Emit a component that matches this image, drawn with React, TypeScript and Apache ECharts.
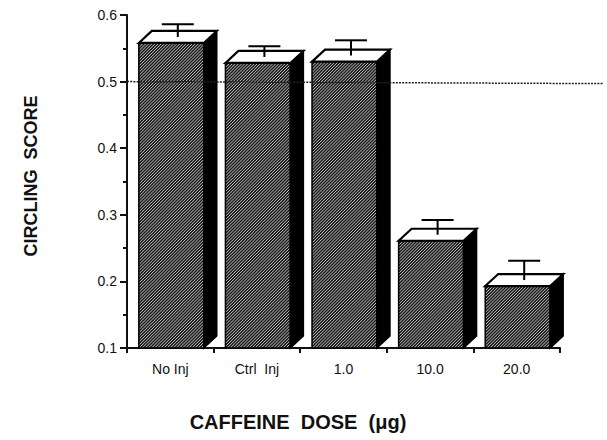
import React, { useEffect, useRef } from "react";
import * as echarts from "echarts";

const categories = ["No Inj", "Ctrl  Inj", "1.0", "10.0", "20.0"];
const scores = [0.558, 0.528, 0.53, 0.261, 0.193];
const sem = [0.019, 0.016, 0.023, 0.022, 0.029];
const referenceLevel = 0.5;
const yTicks = { min: 0.1, max: 0.6, interval: 0.1 };

const FONT = "'Liberation Sans', Arial, Helvetica, sans-serif";

export default function App() {
  const ref = useRef<HTMLDivElement>(null);
  useEffect(() => {
    if (!ref.current) return;
    const chart = echarts.init(ref.current, null, { renderer: "svg" });
    const barData = scores.map((v, i) => [i, v, sem[i]]);

    const option: any = {
      animation: false,
      backgroundColor: "#ffffff",
      grid: { left: 127, right: 47, top: 15, bottom: 92, containLabel: false },
      xAxis: {
        type: "category",
        data: categories,
        boundaryGap: true,
        axisLine: { show: true, lineStyle: { color: "#111", width: 2 } },
        axisTick: { show: true, length: 5, alignWithLabel: false, lineStyle: { color: "#111", width: 2 } },
        axisLabel: { margin: 14, fontSize: 14, color: "#111", fontFamily: FONT },
        splitLine: { show: false },
      },
      yAxis: {
        type: "value",
        min: yTicks.min,
        max: yTicks.max,
        interval: yTicks.interval,
        axisLine: { show: true, lineStyle: { color: "#111", width: 2 } },
        axisTick: { show: true, length: 7, lineStyle: { color: "#111", width: 2 } },
        minorTick: { show: true, splitNumber: 2, length: 4, lineStyle: { color: "#111", width: 2 } },
        axisLabel: {
          margin: 10,
          fontSize: 14,
          color: "#111",
          fontFamily: FONT,
          formatter: (v: number) => v.toFixed(1),
        },
        splitLine: { show: false },
      },
      graphic: [
        {
          type: "text",
          x: 31,
          y: 176,
          rotation: Math.PI / 2,
          style: {
            text: "CIRCLING  SCORE",
            fontSize: 18,
            fontWeight: "bold",
            fontFamily: FONT,
            fill: "#111",
            align: "center",
            verticalAlign: "middle",
          },
        },
        {
          type: "text",
          x: 298,
          y: 422,
          style: {
            text: "CAFFEINE  DOSE  (\u03bcg)",
            fontSize: 20,
            fontWeight: "bold",
            fontFamily: FONT,
            fill: "#111",
            align: "center",
            verticalAlign: "middle",
          },
        },
      ],
      series: [
        {
          type: "custom",
          data: barData,
          encode: { x: 0, y: 1 },
          z: 2,
          renderItem: (params: any, api: any) => {
            const idx = api.value(0);
            const v = api.value(1);
            const e = api.value(2);
            const top = api.coord([idx, v]);
            const base = api.coord([idx, yTicks.min]);
            const errTop = api.coord([idx, v + e]);
            const band = api.size([1, 0])[0];
            const w = band * 0.75;
            const dx = 13;
            const dy = 12;
            const x0 = top[0] - w / 2 + 1;
            const x1 = x0 + w;
            const yt = top[1];
            const yb = base[1];
            const children: any[] = [];
            children.push({
              type: "rect",
              shape: { x: x0, y: yt, width: w, height: yb - yt },
              style: { fill: "#1c1c1c", stroke: null },
            });
            const step = 3.1;
            for (let c = x0 + yt + step / 2; c < x1 + yb; c += step) {
              const xa = Math.max(x0, c - yb);
              const xb = Math.min(x1, c - yt);
              if (xb <= xa) continue;
              children.push({
                type: "line",
                shape: { x1: xa, y1: c - xa, x2: xb, y2: c - xb },
                style: { stroke: "#d4d4d4", lineWidth: 0.9 },
                silent: true,
              });
            }
            children.push({
              type: "rect",
              shape: { x: x0, y: yt, width: w, height: yb - yt },
              style: { fill: null, stroke: "#000", lineWidth: 1.5 },
            });
            children.push({
              type: "polygon",
              shape: {
                points: [
                  [x1, yt],
                  [x1 + dx, yt - dy],
                  [x1 + dx, yb - dy],
                  [x1, yb],
                ],
              },
              style: { fill: "#000", stroke: "#000", lineWidth: 1.5 },
            });
            children.push({
              type: "polygon",
              shape: {
                points: [
                  [x0, yt],
                  [x0 + dx, yt - dy],
                  [x1 + dx, yt - dy],
                  [x1, yt],
                ],
              },
              style: { fill: "#fff", stroke: "#000", lineWidth: 2.2 },
            });
            const cx = x0 + w / 2 + dx / 2;
            const cy = yt - dy / 2;
            const ey = errTop[1] - dy / 2;
            children.push({
              type: "line",
              shape: { x1: cx, y1: cy, x2: cx, y2: ey },
              style: { stroke: "#000", lineWidth: 2 },
            });
            children.push({
              type: "line",
              shape: { x1: cx - 16, y1: ey, x2: cx + 16, y2: ey },
              style: { stroke: "#000", lineWidth: 2 },
            });
            return { type: "group", children };
          },
        },
        {
          type: "custom",
          data: [[0, referenceLevel]],
          encode: { x: 0, y: 1 },
          z: 5,
          renderItem: (params: any, api: any) => {
            const p = api.coord([0, api.value(1)]);
            const left = params.coordSys.x;
            const right = api.getWidth() - 4;
            return {
              type: "line",
              shape: { x1: left, y1: p[1], x2: right, y2: p[1] + 2 },
              style: { stroke: "#222", lineWidth: 1.5, lineDash: [2, 1.2] },
            };
          },
        },
      ],
    };
    chart.setOption(option);
    return () => chart.dispose();
  }, []);
  return (
    <div
      ref={ref}
      style={{ position: "absolute", left: 0, top: 0, width: 607, height: 440 }}
    />
  );
}
